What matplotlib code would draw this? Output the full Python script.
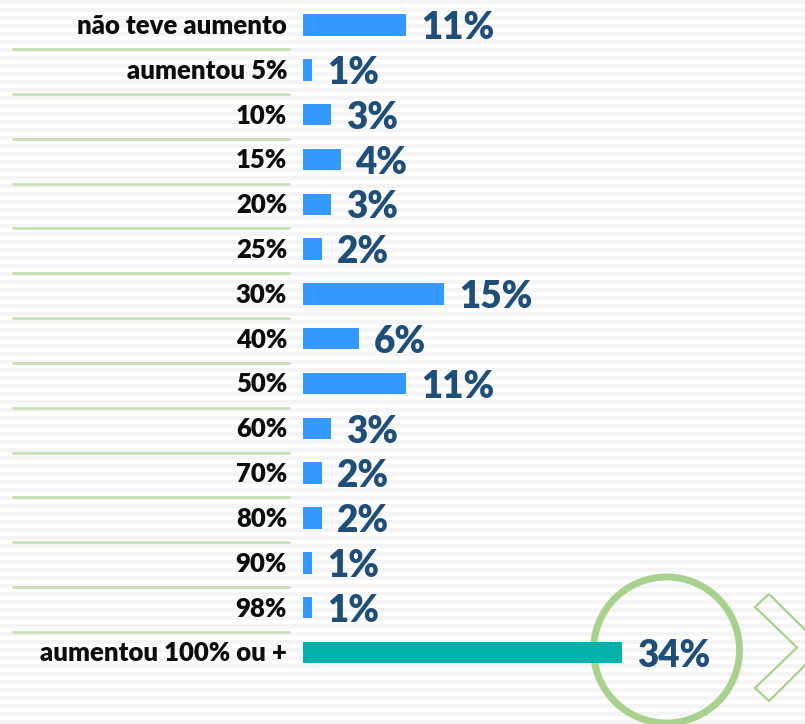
import matplotlib
matplotlib.use("Agg")
import matplotlib.pyplot as plt
from matplotlib.patches import Circle, Polygon

categories = ["não teve aumento", "aumentou 5%", "10%", "15%", "20%", "25%", "30%",
              "40%", "50%", "60%", "70%", "80%", "90%", "98%", "aumentou 100% ou +"]
values = [11, 1, 3, 4, 3, 2, 15, 6, 11, 3, 2, 2, 1, 1, 34]
value_labels = [f"{v}%" for v in values]

W, H = 805, 724
PX_PER_PCT = 9.38
X0 = 303
ROW = 44.82
Y0 = 25

plt.rcParams['font.family'] = ['Lato', 'DejaVu Sans']

fig = plt.figure(figsize=(W / 100, H / 100), dpi=100)

# background stripes and decorations (pixel coordinates)
bg = fig.add_axes([0, 0, 1, 1], zorder=0)
bg.set_xlim(0, W)
bg.set_ylim(H, 0)
bg.axis('off')
for y in range(0, H, 8):
    bg.axhspan(y, y + 4, color='#f4f4f4', lw=0)
bg.add_patch(Circle((666.5, 650), 73, fill=False, edgecolor='#A9D18E', lw=5))
bg.add_patch(Polygon([(769, 594), (823, 647.5), (769, 701), (755, 688),
                      (797, 647.5), (755, 607)], closed=True, fill=False,
                     edgecolor='#A9D18E', lw=1.6))

ax = fig.add_axes([0, 0, 1, 1], zorder=1)
ax.patch.set_alpha(0)
ax.set_xlim(-X0 / PX_PER_PCT, (W - X0) / PX_PER_PCT)
ax.set_ylim((H - Y0) / ROW, -Y0 / ROW)
ax.axis('off')

n = len(categories)
ypos = list(range(n))
colors = ['#3399FF'] * (n - 1) + ['#00B2AA']
ax.barh(ypos, values, height=0.48, color=colors, zorder=3)

tr = ax.get_yaxis_transform()
for i, (cat, v, lab) in enumerate(zip(categories, values, value_labels)):
    ax.text(287 / W, i + 0.02, cat, transform=tr, ha='right', va='center',
            fontsize=18.5, fontweight='heavy', color='#0D0D0D')
    ax.text(v + 1.6, i + 0.07, lab, ha='left', va='center',
            fontsize=26.5, fontweight='heavy', color='#1F4E79', zorder=4)
    if i < n - 1:
        ax.hlines(i + 0.54, 12 / W, 290 / W, transform=tr, color='#C5E0B3', lw=2)

fig.savefig("out.png", dpi=100)
